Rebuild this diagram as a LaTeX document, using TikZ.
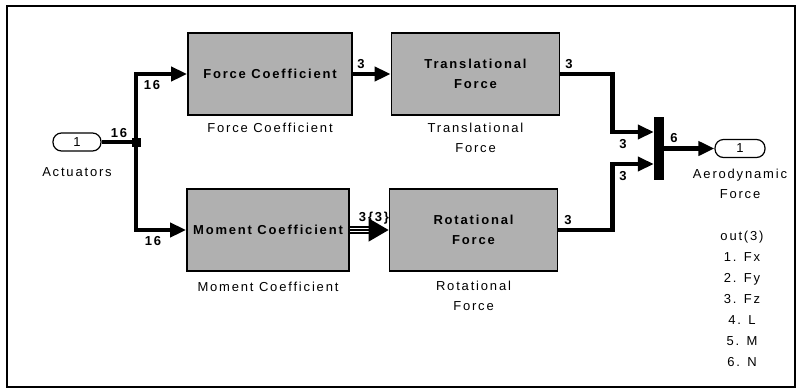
\documentclass[tikz,border=0pt]{standalone}
\usepackage{fontspec}
\setmainfont{Liberation Sans}
\newfontfamily\lblfont[LetterSpace=14]{Liberation Sans}
\usetikzlibrary{arrows.meta}
\definecolor{boxgray}{RGB}{176,176,176}

\tikzset{
  blk/.style={draw, line width=1.8pt, fill=boxgray, minimum height=82pt,
    inner sep=0pt, align=center, font=\fontsize{13}{19.5}\lblfont\bfseries},
  lbl/.style={font=\fontsize{13}{19.5}\lblfont, align=center, inner sep=0pt},
  num/.style={font=\fontsize{13}{14}\lblfont\bfseries, inner sep=0pt},
  port/.style={draw, line width=1.2pt, rounded corners=8.5pt, minimum height=18pt,
    inner sep=0pt, font=\fontsize{13}{14}\lblfont},
  sig/.style={line width=4.2pt},
  arr/.style={sig, -{Triangle[length=16pt,width=14pt]}},
}

\begin{document}
\begin{tikzpicture}[x=1pt, y=-1pt]
\useasboundingbox (0,0) rectangle (797,389);
% outer frame of the model window
\draw[line width=1.2pt] (7,6) rectangle (795,387);

% ports
\node[port, minimum width=48pt] (act) at (77,142) {1};
\node[lbl] (actlbl) at (77,172) {Actuators};
\node[port, minimum width=50pt] (aero) at (740,148.5) {1};
\node[lbl] (aerolbl) at (740,184) {Aerodynamic\\Force};

% subsystems
\node[blk, minimum width=164pt] (fc) at (270,74) {Force Coefficient};
\node[lbl] (fclbl) at (270,128) {Force Coefficient};
\node[blk, minimum width=168pt] (tf) at (475.5,74) {Translational\\Force};
\node[lbl] (tflbl) at (475.5,138) {Translational\\Force};
\node[blk, minimum width=162pt] (mc) at (268,230) {Moment Coefficient};
\node[lbl] (mclbl) at (268,287) {Moment Coefficient};
\node[blk, minimum width=168pt] (rf) at (473.5,230) {Rotational\\Force};
\node[lbl] (rflbl) at (473.5,296) {Rotational\\Force};

% mux bar
\node[fill=black, minimum width=10pt, minimum height=63pt, inner sep=0pt] (mux) at (659,148.5) {};
\coordinate (min1) at ([yshift=16.5pt]mux.west);
\coordinate (min2) at ([yshift=-15.5pt]mux.west);

% signals
\coordinate (jn) at (136,142);
\draw[sig] (act.east) -- (jn);
\draw[arr] (jn) |- (fc.west);
\draw[arr] (jn) |- (mc.west);
\node[fill=black, minimum size=9pt, inner sep=0pt] (jdot) at (jn) {};
\draw[arr] (fc.east) -- (tf.west);
\draw[line width=1.3pt, double, double distance=4.6pt, shorten >=18pt] (mc.east) -- (rf.west);
\draw[line width=1.3pt, -{Triangle[length=20pt,width=23pt]}] (mc.east) -- (rf.west);
\draw[arr] (tf.east) -- ++(52,0) |- (min1);
\draw[arr] (rf.east) -- ++(54,0) |- (min2);
\draw[arr] (mux.east) -- (aero.west);

% signal width labels
\node[num] (w1) at (119,133) {16};
\node[num] (w2) at (152,85) {16};
\node[num] (w3) at (153,241) {16};
\node[num] (w4) at (361,64) {3};
\node[num] (w5) at (374,218) {3\{3\}};
\node[num] (w6) at (569,64) {3};
\node[num] (w7) at (568,220) {3};
\node[num] (w8) at (623,144) {3};
\node[num] (w9) at (623,176) {3};
\node[num] (w10) at (674,138) {6};

% output annotation
\node[lbl] (outlist) at (742,231) [anchor=north, font=\fontsize{13}{21}\lblfont] {out(3)\\1. Fx\\2. Fy\\3. Fz\\4. L\\5. M\\6. N};
\end{tikzpicture}
\end{document}
